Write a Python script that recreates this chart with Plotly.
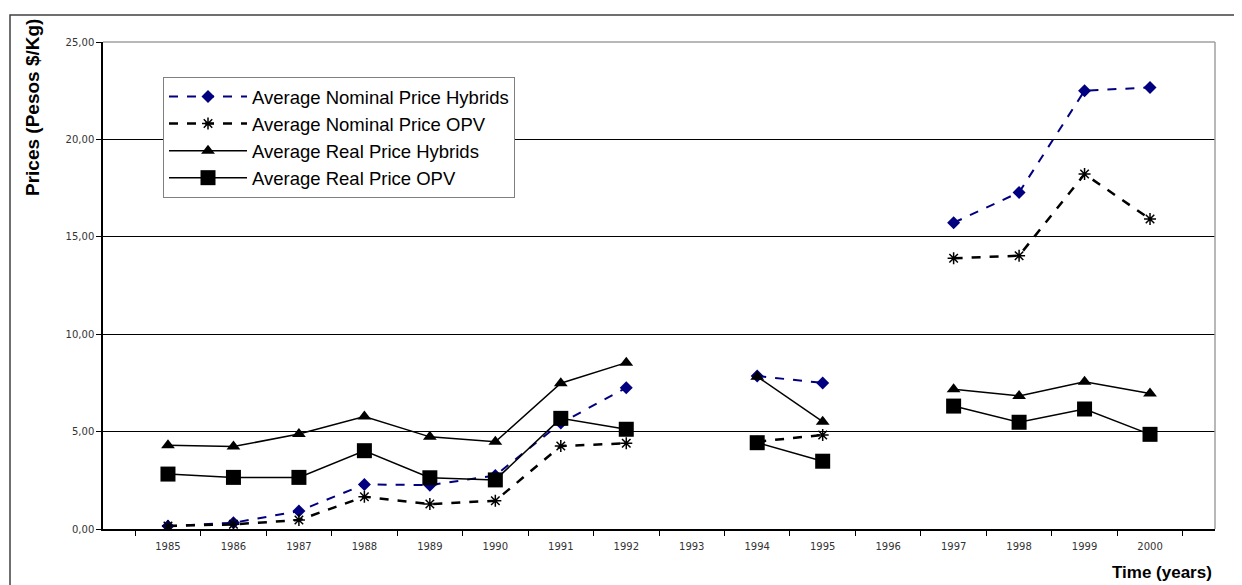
import plotly.graph_objects as go

years = ["1985", "1986", "1987", "1988", "1989", "1990", "1991", "1992",
         "1993", "1994", "1995", "1996", "1997", "1998", "1999", "2000"]
nominal_hybrids = [0.15, 0.32, 0.92, 2.29, 2.25, 2.75, 5.44, 7.25,
                   None, 7.85, 7.50, None, 15.72, 17.28, 22.50, 22.67]
nominal_opv = [0.15, 0.24, 0.46, 1.66, 1.28, 1.45, 4.26, 4.40,
               None, 4.48, 4.83, None, 13.90, 14.03, 18.22, 15.91]
real_hybrids = [4.30, 4.23, 4.88, 5.77, 4.73, 4.48, 7.48, 8.54,
                None, 7.82, 5.51, None, 7.17, 6.83, 7.56, 6.96]
real_opv = [2.82, 2.65, 2.65, 4.02, 2.63, 2.52, 5.68, 5.12,
            None, 4.43, 3.48, None, 6.31, 5.48, 6.16, 4.86]
y_ticks = [0, 5, 10, 15, 20, 25]
y_ticklabels = ["0,00", "5,00", "10,00", "15,00", "20,00", "25,00"]

# page body has an 8px margin: work in screen pixels, shift by OFF
OFF = 8
W, H = 1242 - OFF, 585 - OFF
L, R, T, B = 103 - OFF, 1215 - OFF, 42 - OFF, 529 - OFF


def px(x):
    return (x - OFF - L) / (R - L)


def py(y):
    return (B - (y - OFF)) / (B - T)


fig = go.Figure()
fig.add_trace(go.Scatter(
    x=years, y=nominal_hybrids, name="Average Nominal Price Hybrids",
    mode="lines+markers", connectgaps=False, legendgroup="a",
    line=dict(color="#000080", width=2, dash="dash"),
    marker=dict(symbol="diamond", size=10, color="#000080")))
fig.add_trace(go.Scatter(
    x=years, y=nominal_opv, name="Average Nominal Price OPV",
    mode="lines+markers", connectgaps=False, legendgroup="b",
    line=dict(color="black", width=2.5, dash="dash"),
    marker=dict(symbol="asterisk-open", size=10, color="black",
                line=dict(color="black", width=1.5))))
fig.add_trace(go.Scatter(
    x=years, y=real_hybrids, name="Average Real Price Hybrids",
    mode="lines+markers", connectgaps=False, legendgroup="c",
    line=dict(color="black", width=1.5),
    marker=dict(symbol="triangle-up", size=12, color="black")))
fig.add_trace(go.Scatter(
    x=years, y=real_opv, name="Average Real Price OPV",
    mode="lines+markers", connectgaps=False, legendgroup="d",
    line=dict(color="black", width=1.5),
    marker=dict(symbol="square", size=15, color="black")))

fig.update_layout(
    width=W, height=H,
    margin=dict(l=L, r=W - R, t=T, b=H - B, autoexpand=False),
    paper_bgcolor="white", plot_bgcolor="white",
    font=dict(family="DejaVu Sans", color="#333333"),
    showlegend=True,
    legend=dict(x=px(163), y=py(77), xanchor="left", yanchor="top",
                bordercolor="#808080", borderwidth=1, bgcolor="white",
                font=dict(family="Liberation Sans", size=18.5, color="black"),
                tracegroupgap=10, itemwidth=78,
                traceorder="normal"),
    xaxis=dict(type="category", categoryorder="array", categoryarray=years,
               showgrid=False, zeroline=False,
               showline=True, linecolor="black", linewidth=1.5,
               ticks="outside", ticklen=5, tickcolor="black", tickwidth=1,
               tickson="boundaries", ticklabelstandoff=7,
               tickfont=dict(family="DejaVu Sans", size=10, color="#333333"),
               fixedrange=True),
    yaxis=dict(range=[0, 25], tickvals=y_ticks, ticktext=y_ticklabels,
               showgrid=True, gridcolor="black", gridwidth=1,
               zeroline=False,
               showline=True, linecolor="black", linewidth=1.5,
               ticks="outside", ticklen=5, tickcolor="black",
               tickfont=dict(family="DejaVu Sans", size=10, color="#333333"),
               fixedrange=True),
    shapes=[
        dict(type="rect", xref="paper", yref="paper",
             x0=px(10), x1=px(1260), y0=py(600), y1=py(15),
             line=dict(color="#404040", width=1.5), layer="below"),
        dict(type="line", xref="paper", yref="paper",
             x0=0, x1=1, y0=1, y1=1,
             line=dict(color="#a0a0a0", width=1.5)),
        dict(type="line", xref="paper", yref="paper",
             x0=1, x1=1, y0=0, y1=1,
             line=dict(color="#a0a0a0", width=1.5)),
    ],
    annotations=[
        dict(text="<b>Prices (Pesos $/Kg)</b>", xref="paper", yref="paper",
             x=px(32), y=py(108), textangle=-90, showarrow=False,
             xanchor="center", yanchor="middle",
             font=dict(family="Liberation Sans", size=19, color="black")),
        dict(text="<b>Time (years)</b>", xref="paper", yref="paper",
             x=px(1162), y=py(572), showarrow=False,
             xanchor="center", yanchor="middle",
             font=dict(family="Liberation Sans", size=17, color="black")),
    ],
)

fig.write_html("out.html")
